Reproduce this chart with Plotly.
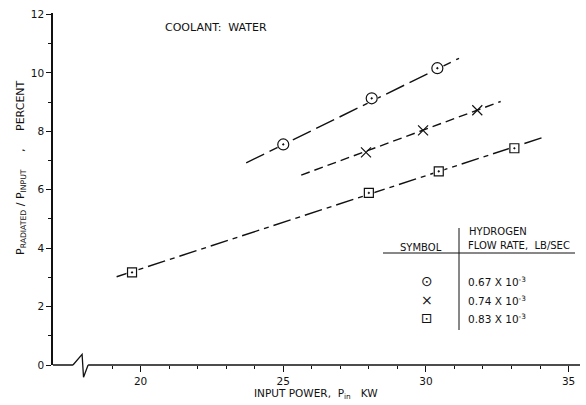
import plotly.graph_objects as go

# ---- data ----
circle_x = [25.0, 28.1, 30.4]
circle_y = [7.55, 9.13, 10.16]
cross_x = [27.9, 29.9, 31.8]
cross_y = [7.28, 8.03, 8.72]
square_x = [19.7, 28.0, 30.45, 33.1]
square_y = [3.17, 5.89, 6.63, 7.42]

# faired lines (endpoints)
circle_fit_x = [23.7, 31.16]
circle_fit_y = [6.92, 10.5]
cross_fit_x = [25.63, 32.62]
cross_fit_y = [6.5, 9.02]
square_fit_x = [19.16, 34.1]
square_fit_y = [3.02, 7.79]

legend_symbols = ["⊙", "×", "⊡"]
legend_labels = ["0.67 X 10<sup>-3</sup>", "0.74 X 10<sup>-3</sup>", "0.83 X 10<sup>-3</sup>"]

x_ticks = [20, 25, 30, 35]
y_ticks = [0, 2, 4, 6, 8, 10, 12]

FONT = "DejaVu Sans"
INK = "#111111"

fig = go.Figure()

for fx, fy, dash in [
    (circle_fit_x, circle_fit_y, "20px,6px"),
    (cross_fit_x, cross_fit_y, "9px,5px"),
    (square_fit_x, square_fit_y, "18px,5px,5px,5px"),
]:
    fig.add_trace(go.Scatter(x=fx, y=fy, mode="lines",
                             line=dict(color=INK, width=1.4, dash=dash),
                             hoverinfo="skip", showlegend=False))

# white backgrounds under markers to open gaps in the lines
fig.add_trace(go.Scatter(x=circle_x, y=circle_y, mode="markers",
                         marker=dict(symbol="circle", size=13, color="white"),
                         showlegend=False))
fig.add_trace(go.Scatter(x=square_x, y=square_y, mode="markers",
                         marker=dict(symbol="square", size=11, color="white"),
                         showlegend=False))

fig.add_trace(go.Scatter(x=circle_x, y=circle_y, mode="markers",
                         marker=dict(symbol="circle-open-dot", size=11, color=INK,
                                     line=dict(width=1.2, color=INK)),
                         showlegend=False))
fig.add_trace(go.Scatter(x=cross_x, y=cross_y, mode="markers",
                         marker=dict(symbol="x-thin-open", size=10, color=INK,
                                     line=dict(width=1.2, color=INK)),
                         showlegend=False))
fig.add_trace(go.Scatter(x=square_x, y=square_y, mode="markers",
                         marker=dict(symbol="square-open-dot", size=9, color=INK,
                                     line=dict(width=1.2, color=INK)),
                         showlegend=False))

# x-axis line with break
xmin, xmax = 16.93, 35.4
shapes = [
    dict(type="line", xref="x", yref="paper", x0=xmin, x1=17.63, y0=0, y1=0,
         line=dict(color=INK, width=1.5)),
    dict(type="path", xref="x", yref="paper",
         path="M 17.63 0 L 17.95 0.03 L 18.0 -0.035 L 18.16 0",
         line=dict(color=INK, width=1.3)),
    dict(type="line", xref="x", yref="paper", x0=18.16, x1=xmax, y0=0, y1=0,
         line=dict(color=INK, width=1.5)),
]

# legend table lines (paper coords)
def px(xp):
    return (xp - 53) / 527.0

def py(yp):
    return (365 - yp) / 352.0

shapes += [
    dict(type="line", xref="paper", yref="paper", x0=px(459), x1=px(459),
         y0=py(228), y1=py(330), line=dict(color=INK, width=1)),
    dict(type="line", xref="paper", yref="paper", x0=px(383), x1=px(575),
         y0=py(253), y1=py(253), line=dict(color=INK, width=1)),
]

SUB = '<span style="font-size:9px">'
annotations = [
    dict(text="COOLANT:  WATER", x=px(163), y=py(27), xref="paper", yref="paper",
         xanchor="left", yanchor="middle", showarrow=False, font=dict(size=11)),
    dict(text="P<sub>" + "RADIATED" + "</sub> / P<sub>INPUT</sub>     ,     PERCENT",
         x=px(21), y=py(168), xref="paper", yref="paper", textangle=-90,
         xanchor="center", yanchor="middle", showarrow=False, font=dict(size=11)),
    dict(text="INPUT POWER,  P<sub>in</sub>   KW", x=px(316), y=py(394),
         xref="paper", yref="paper", xanchor="center", yanchor="middle",
         showarrow=False, font=dict(size=10.5)),
    dict(text="HYDROGEN", x=px(467), y=py(231), xref="paper", yref="paper",
         xanchor="left", yanchor="middle", showarrow=False, font=dict(size=10)),
    dict(text="FLOW RATE,  LB/SEC", x=px(466), y=py(246), xref="paper", yref="paper",
         xanchor="left", yanchor="middle", showarrow=False, font=dict(size=10)),
    dict(text="SYMBOL", x=px(421), y=py(247), xref="paper", yref="paper",
         xanchor="center", yanchor="middle", showarrow=False, font=dict(size=10)),
]
row_y = [281, 300, 318]
for sym, lab, ry in zip(legend_symbols, legend_labels, row_y):
    annotations.append(dict(text=sym, x=px(427), y=py(ry), xref="paper", yref="paper",
                            xanchor="center", yanchor="middle", showarrow=False,
                            font=dict(size=14)))
    annotations.append(dict(text=lab, x=px(466), y=py(ry), xref="paper", yref="paper",
                            xanchor="left", yanchor="middle", showarrow=False,
                            font=dict(size=10.5)))

fig.update_layout(
    width=586, height=405,
    margin=dict(l=53, r=6, t=13, b=40),
    paper_bgcolor="white", plot_bgcolor="white",
    font=dict(family=FONT, size=10, color=INK),
    shapes=shapes, annotations=annotations,
    xaxis=dict(range=[xmin, xmax], tickvals=x_ticks, ticks="outside", ticklen=6,
               tickwidth=1, tickcolor=INK, showline=False, showgrid=False,
               zeroline=False, tickfont=dict(size=10.5),
               minor=dict(tickvals=[19, 21, 22, 23, 24, 26, 27, 28, 29, 31, 32, 33, 34],
                          ticks="outside", ticklen=3, tickcolor=INK)),
    yaxis=dict(range=[0, 12.05], tickvals=y_ticks, ticks="outside", ticklen=5,
               tickwidth=1, tickcolor=INK, showline=True, linecolor=INK, linewidth=1.5,
               showgrid=False, zeroline=False, tickfont=dict(size=10.5),
               minor=dict(tickvals=[1, 3, 5, 7, 9, 11], ticks="outside", ticklen=3,
                          tickcolor=INK)),
)

fig.write_html("out.html")
